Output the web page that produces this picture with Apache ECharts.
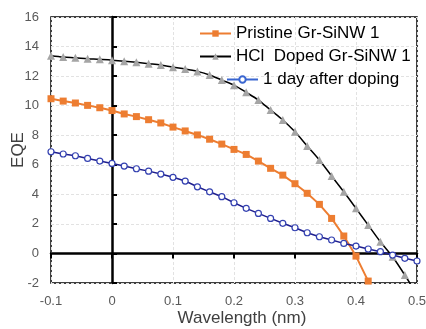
<!DOCTYPE html>
<html>
<head>
<meta charset="utf-8">
<script src="https://cdn.jsdelivr.net/npm/echarts@6/dist/echarts.min.js"></script>
<style>
html,body{margin:0;padding:0;background:#fff;}
#c{width:426px;height:329px;}
</style>
</head>
<body>
<div id="c"></div>
<script>
var wavelength = [-0.1,-0.08,-0.06,-0.04,-0.02,0,0.02,0.04,0.06,0.08,0.1,0.12,0.14,0.16,0.18,0.2,0.22,0.24,0.26,0.28,0.3,0.32,0.34,0.36,0.38,0.4,0.42,0.44,0.46,0.48,0.5];
var pristine = [10.47,10.31,10.18,10.02,9.86,9.67,9.44,9.26,9.05,8.83,8.55,8.29,8.02,7.73,7.40,7.04,6.70,6.25,5.76,5.30,4.72,4.07,3.32,2.37,1.18,-0.18,-1.87];
var hclDoped = [13.38,13.29,13.24,13.18,13.14,13.08,13.01,12.93,12.84,12.75,12.60,12.48,12.32,12.08,11.73,11.39,10.90,10.38,9.70,9.03,8.23,7.27,6.32,5.24,4.17,3.05,1.92,0.79,-0.22,-1.46,-2.8];
var dayAfter = [6.88,6.73,6.61,6.43,6.25,6.09,5.91,5.73,5.57,5.37,5.15,4.90,4.51,4.17,3.84,3.43,3.05,2.71,2.37,2.04,1.74,1.40,1.13,0.91,0.68,0.50,0.30,0.12,-0.11,-0.33,-0.51];
var seriesNames = ['Pristine Gr-SiNW 1','HCl  Doped Gr-SiNW 1','1 day after doping'];
var xTitle = 'Wavelength (nm)';
var yTitle = 'EQE';

function pairs(ys){ return ys.map(function(v,i){ return [wavelength[i], v]; }); }

var chart = echarts.init(document.getElementById('c'), null, {renderer:'canvas'});
var font = 'Liberation Sans, Arial, sans-serif';
var legendText = {fontFamily:font, fontSize:17, color:'#000', lineHeight:17};
chart.setOption({
  animation:false,
  backgroundColor:'#fff',
  textStyle:{fontFamily:font},
  grid:{left:51, top:17, right:9, bottom:46, show:true, borderColor:'#000', borderWidth:1.5,
        backgroundColor:'transparent', containLabel:false, outerBoundsMode:'none'},
  legend:[{
    orient:'vertical', left:199, top:25, padding:0,
    itemWidth:31, itemHeight:8, itemGap:6,
    textStyle:legendText,
    data:[{name:seriesNames[0]},{name:seriesNames[1]}]
  },{
    orient:'vertical', left:226, top:71, padding:0,
    itemWidth:31, itemHeight:8, itemGap:6,
    textStyle:legendText,
    data:[{name:seriesNames[2], lineStyle:{color:'#3a66d0'}, itemStyle:{color:'#fff', borderColor:'#3a66d0'}}]
  }],
  xAxis:[{
    type:'value', min:-0.1, max:0.5, interval:0.1,
    axisLine:{show:false}, axisTick:{show:false},
    axisLabel:{fontSize:13, color:'#595959', margin:12, fontFamily:font},
    splitLine:{show:true, lineStyle:{color:'#e2e2e2', type:[3,2], width:1}},
    name:xTitle, nameLocation:'middle', nameGap:27, nameMoveOverlap:false,
    nameTextStyle:{fontSize:17, color:'#404040', fontFamily:font, padding:[0,0,0,16]}
  },{
    type:'value', min:-0.1, max:0.5, interval:0.1,
    axisLine:{show:true, onZero:true, onZeroAxisIndex:0, lineStyle:{color:'#000', width:2.5}},
    axisTick:{show:true, inside:true, length:5, lineStyle:{color:'#000', width:2}},
    axisLabel:{show:false}, splitLine:{show:false}
  }],
  yAxis:[{
    type:'value', min:-2, max:16, interval:2,
    axisLine:{show:false}, axisTick:{show:false},
    axisLabel:{fontSize:13, color:'#595959', margin:12, fontFamily:font},
    splitLine:{show:true, lineStyle:{color:'#e2e2e2', type:[3,2], width:1}},
    name:yTitle, nameLocation:'middle', nameGap:24, nameRotate:90, nameMoveOverlap:false,
    nameTextStyle:{fontSize:17, color:'#404040', fontFamily:font}
  },{
    type:'value', min:-2, max:16, interval:2, position:'left',
    axisLine:{show:true, onZero:true, onZeroAxisIndex:0, lineStyle:{color:'#000', width:2.5}},
    axisTick:{show:true, inside:true, length:5, lineStyle:{color:'#000', width:2}},
    axisLabel:{show:false}, splitLine:{show:false}
  }],
  series:[
    {name:seriesNames[0], type:'line', data:pairs(pristine), xAxisIndex:0, yAxisIndex:0,
     symbol:'rect', symbolSize:7, showAllSymbol:true,
     lineStyle:{color:'#ED7D31', width:2}, itemStyle:{color:'#ED7D31'}, color:'#ED7D31', z:3},
    {name:seriesNames[1], type:'line', data:pairs(hclDoped), xAxisIndex:0, yAxisIndex:0,
     symbol:'triangle', symbolSize:8, showAllSymbol:true, smooth:0.3, clip:true,
     lineStyle:{color:'#000', width:1.5}, itemStyle:{color:'#A5A5A5'}, color:'#A5A5A5', z:4},
    {name:seriesNames[2], type:'line', data:pairs(dayAfter), xAxisIndex:0, yAxisIndex:0,
     symbol:'circle', symbolSize:6, showAllSymbol:true,
     lineStyle:{color:'#1f1f8f', width:1.5}, itemStyle:{color:'#fff', borderColor:'#3340b0', borderWidth:1.2}, z:5}
  ]
});
</script>
</body>
</html>
